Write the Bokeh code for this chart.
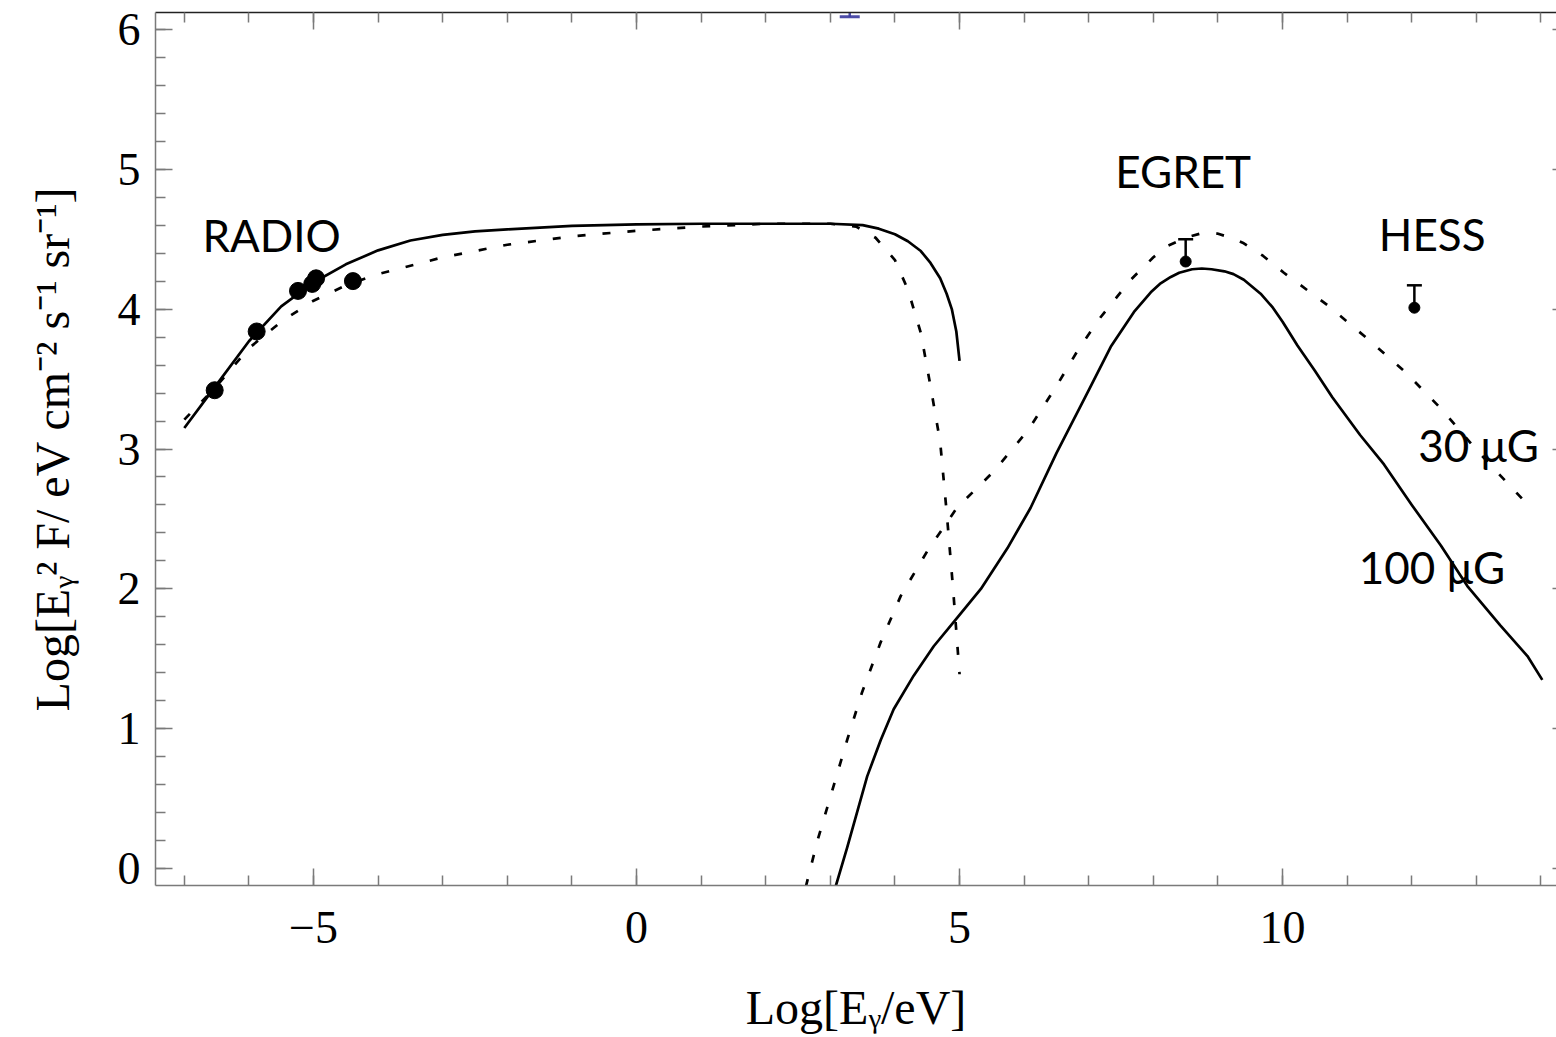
from bokeh.plotting import figure
from bokeh.models import (LinearAxis, SingleIntervalTicker, CustomJSTickFormatter,
                          Range1d, ColumnDataSource)
from bokeh.core.properties import value
from bokeh.embed import file_html
from bokeh.resources import INLINE

# ---- synchrotron spectra (log10 E / eV  vs  log10 E^2 F) ----
sync_100_x = [-7.0, -6.5, -6.0, -5.5, -5.0, -4.5, -4.0, -3.5, -3.0, -2.5, -2.0, -1.0, 0.0,
              1.0, 2.0, 3.0, 3.5, 3.75, 4.0, 4.2, 4.4, 4.55, 4.7, 4.8, 4.88, 4.95, 5.0]
sync_100_y = [3.15, 3.46, 3.77, 4.02, 4.19, 4.32, 4.42, 4.49, 4.53, 4.555, 4.57, 4.595, 4.605,
              4.61, 4.61, 4.61, 4.60, 4.575, 4.535, 4.485, 4.415, 4.33, 4.22, 4.11, 4.0,
              3.84, 3.63]

sync_30_x = [-7.0, -6.5, -6.0, -5.5, -5.0, -4.5, -4.0, -3.5, -3.0, -2.0, -1.0, 0.0,
             1.0, 2.0, 2.5, 3.0, 3.4, 3.7, 4.0, 4.2, 4.4, 4.55, 4.7, 4.8, 4.9, 5.0]
sync_30_y = [3.21, 3.45, 3.72, 3.91, 4.06, 4.17, 4.25, 4.31, 4.37, 4.46, 4.52, 4.56,
             4.59, 4.61, 4.61, 4.61, 4.59, 4.51, 4.35, 4.14, 3.83, 3.45, 3.05, 2.55, 2.0, 1.39]

# ---- inverse-Compton spectra ----
ic_100_x = [3.08, 3.26, 3.57, 3.78, 3.98, 4.29, 4.6, 4.94, 5.33, 5.74, 6.1, 6.5, 7.0,
            7.34, 7.7, 7.96, 8.1, 8.27, 8.4, 8.6, 8.75, 8.9, 9.1, 9.24, 9.4, 9.66, 9.85,
            10.0, 10.23, 10.5, 10.77, 11.2, 11.57, 12.0, 12.45, 12.86, 13.37, 13.79, 14.02]
ic_100_y = [-0.13, 0.15, 0.66, 0.92, 1.14, 1.38, 1.59, 1.78, 2.0, 2.29, 2.58, 2.97, 3.42,
            3.73, 3.98, 4.12, 4.18, 4.23, 4.26, 4.285, 4.29, 4.285, 4.27, 4.25, 4.21, 4.11,
            4.01, 3.91, 3.74, 3.56, 3.37, 3.10, 2.89, 2.60, 2.31, 2.02, 1.74, 1.52, 1.35]

ic_30_x = [2.62, 2.8, 3.03, 3.26, 3.49, 3.78, 4.09, 4.5, 4.96, 5.53, 6.07, 6.5, 6.85,
           7.18, 7.65, 8.0, 8.21, 8.5, 8.73, 8.99, 9.2, 9.4, 9.7, 10.02, 10.69, 11.31,
           11.9, 12.47, 12.99, 13.27, 13.84]
ic_30_y = [-0.13, 0.2, 0.56, 0.92, 1.26, 1.62, 1.95, 2.27, 2.58, 2.84, 3.14, 3.45, 3.72,
           3.94, 4.21, 4.37, 4.45, 4.51, 4.54, 4.54, 4.51, 4.47, 4.38, 4.26, 4.03, 3.79,
           3.55, 3.28, 3.0, 2.86, 2.58]

# ---- measurements ----
radio_x = [-6.53, -5.88, -5.24, -5.02, -4.96, -4.39]
radio_y = [3.42, 3.84, 4.13, 4.18, 4.22, 4.20]

limit_x = [8.5, 12.04]          # EGRET, HESS
limit_y = [4.34, 4.01]
limit_top = [4.50, 4.17]

xray_x = [3.3]
xray_cap = [6.09]
xray_y = [6.5]

# ---- annotations ----
note_text = ["RADIO", "EGRET", "HESS", "30 μG", "100 μG"]
note_x = [-6.72, 7.41, 11.49, 12.1, 11.18]
note_y = [4.53, 4.99, 4.54, 3.03, 2.16]

p = figure(width=1556, height=1037, output_backend="svg", toolbar_location=None,
           x_range=Range1d(-7.446, 14.24), y_range=Range1d(-0.12, 6.12),
           min_border_left=155, min_border_right=0, min_border_top=12,
           min_border_bottom=152)
p.xgrid.visible = False
p.ygrid.visible = False
p.outline_line_color = None
p.background_fill_color = "white"
p.border_fill_color = "white"

minus_fmt = CustomJSTickFormatter(
    code="return tick < 0 ? '\\u2212' + String(-tick) : String(tick);")
blank_fmt = CustomJSTickFormatter(code="return '';")

serif = "Liberation Serif"
axis_grey = "#7a7a7a"


def frame_ticks(ax, major_in=17, minor_in=10):
    ax.major_tick_in = major_in
    ax.major_tick_out = 0
    ax.minor_tick_in = minor_in
    ax.minor_tick_out = 0
    ax.major_tick_line_color = axis_grey
    ax.minor_tick_line_color = axis_grey
    ax.major_tick_line_width = 1.5
    ax.minor_tick_line_width = 1.5
    ax.axis_line_color = axis_grey
    ax.axis_line_width = 1.5


xb = p.xaxis[0]
xb.ticker = SingleIntervalTicker(interval=5, num_minor_ticks=5)
xb.formatter = minus_fmt
frame_ticks(xb)
xb.major_label_text_font = serif
xb.major_label_text_font_size = "46px"
xb.major_label_text_color = "black"
xb.major_label_standoff = 26
xb.axis_label = "Log[Eᵧ/eV]"
xb.axis_label_text_font = serif
xb.axis_label_text_font_size = "48px"
xb.axis_label_text_font_style = "normal"
xb.axis_label_text_color = "black"
xb.axis_label_standoff = 35

yl = p.yaxis[0]
yl.ticker = SingleIntervalTicker(interval=1, num_minor_ticks=5)
yl.formatter = minus_fmt
frame_ticks(yl)
yl.major_label_text_font = serif
yl.major_label_text_font_size = "46px"
yl.major_label_text_color = "black"
yl.major_label_standoff = 15
yl.axis_label = "Log[Eᵧ² F/ eV cm⁻² s⁻¹ sr⁻¹]"
yl.axis_label_text_font = serif
yl.axis_label_text_font_size = "48px"
yl.axis_label_text_font_style = "normal"
yl.axis_label_text_color = "black"
yl.axis_label_standoff = 36

top = LinearAxis(ticker=SingleIntervalTicker(interval=5, num_minor_ticks=5),
                 formatter=blank_fmt, major_label_text_font_size="0px",
                 major_label_standoff=0)
frame_ticks(top)
top.axis_line_color = "#222222"
p.add_layout(top, "above")

right = LinearAxis(ticker=SingleIntervalTicker(interval=1, num_minor_ticks=5),
                   formatter=blank_fmt, major_label_text_font_size="0px",
                   major_label_standoff=0)
frame_ticks(right, major_in=4, minor_in=0)
right.axis_line_color = None
p.add_layout(right, "right")

# model curves
p.line(sync_100_x, sync_100_y, line_color="black", line_width=2.7, line_join="round")
p.line(sync_30_x, sync_30_y, line_color="black", line_width=2.7, line_dash="8 17")
p.line(ic_100_x, ic_100_y, line_color="black", line_width=2.7, line_join="round")
p.line(ic_30_x, ic_30_y, line_color="black", line_width=2.7, line_dash="8 17")

# radio points
p.scatter(radio_x, radio_y, size=17, marker="circle", fill_color="black",
          line_color="black")

# gamma-ray upper limits
lim = ColumnDataSource(dict(x=limit_x, y=limit_y, top=limit_top))
p.segment(x0="x", y0="y", x1="x", y1="top", source=lim, line_color="black", line_width=2.5)
p.scatter(x="x", y="top", source=lim, marker="dash", size=15, line_color="black",
          line_width=2.5)
p.scatter(x="x", y="y", source=lim, marker="circle", size=11, fill_color="black",
          line_color="black")

# X-ray limit, mostly above the plotted range
xr = ColumnDataSource(dict(x=xray_x, cap=xray_cap, y=xray_y))
p.segment(x0="x", y0="cap", x1="x", y1="y", source=xr, line_color="#3a3a9e",
          line_width=2.5, line_alpha=0.9)
p.scatter(x="x", y="cap", source=xr, marker="dash", size=20, line_color="#3a3a9e",
          line_width=3, line_alpha=0.9)

p.text(x=note_x, y=note_y, text=note_text, text_font=value("Lato"),
       text_font_size="44px", text_baseline="middle", text_align="left",
       text_color="black")

open("out.html", "w").write(file_html(p, INLINE))
